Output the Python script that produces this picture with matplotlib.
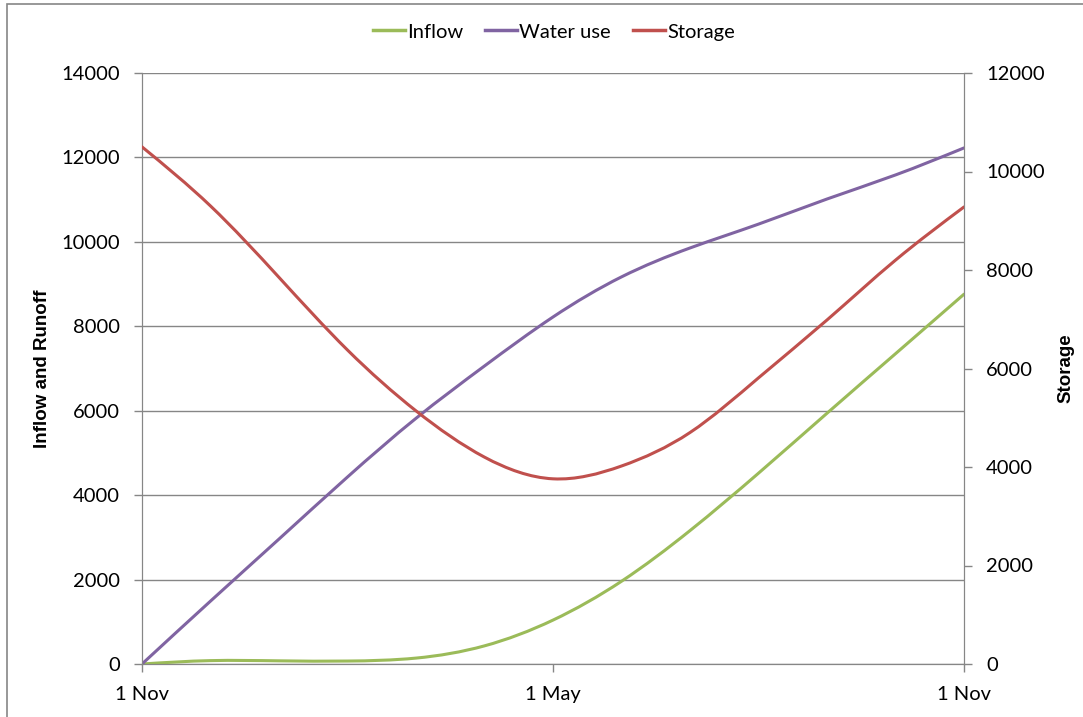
import numpy as np
import matplotlib.pyplot as plt
from matplotlib.path import Path
from matplotlib.patches import PathPatch, Rectangle
from matplotlib.lines import Line2D

plt.rcParams['font.family'] = ['Lato', 'DejaVu Sans']

# Месяцы от 1 Nov (0) до следующего 1 Nov (12)
months = np.arange(13)
tick_pos = [0, 6, 12]
tick_labels = ['1 Nov', '1 May', '1 Nov']

inflow = [0, 80, 75, 70, 140, 430, 1040, 1960, 3160, 4520, 5940, 7350, 8760]
water_use = [0, 1490, 2960, 4430, 5820, 7060, 8220, 9170, 9855, 10420, 11015, 11585, 12225]
storage = [10500, 9300, 7850, 6375, 5140, 4200, 3760, 4020, 4700, 5810, 6985, 8200, 9280]

c_inflow = '#9BBB59'
c_water = '#8064A2'
c_storage = '#C0504D'
grid_c = '#868686'


# Гладкая линия через точки (кубический сплайн, нарисованный кривыми Безье)
def smooth_path(x, y):
    x = np.asarray(x, float)
    y = np.asarray(y, float)
    n = len(x)
    A = np.zeros((n, n))
    b = np.zeros(n)
    A[0, 0], A[0, 1], b[0] = 2, 1, 3 * (y[1] - y[0])
    A[-1, -2], A[-1, -1], b[-1] = 1, 2, 3 * (y[-1] - y[-2])
    for i in range(1, n - 1):
        A[i, i - 1], A[i, i], A[i, i + 1] = 1, 4, 1
        b[i] = 3 * (y[i + 1] - y[i - 1])
    d = np.linalg.solve(A, b)
    verts = [(x[0], y[0])]
    codes = [Path.MOVETO]
    for i in range(n - 1):
        h = x[i + 1] - x[i]
        verts += [(x[i] + h / 3, y[i] + d[i] / 3),
                  (x[i + 1] - h / 3, y[i + 1] - d[i + 1] / 3),
                  (x[i + 1], y[i + 1])]
        codes += [Path.CURVE4] * 3
    return Path(verts, codes)


fig = plt.figure(figsize=(10.83, 7.17), dpi=100)
ax = fig.add_axes([142 / 1083, 1 - 664 / 717, 822 / 1083, 591 / 717])
ax2 = ax.twinx()

ax.set_xlim(0, 12)
ax.set_ylim(0, 14000)
ax2.set_ylim(0, 12000)

for a, data, col in [(ax, inflow, c_inflow), (ax, water_use, c_water), (ax2, storage, c_storage)]:
    a.add_patch(PathPatch(smooth_path(months, data), facecolor='none',
                          edgecolor=col, lw=2.2, capstyle='round', zorder=3))

ax.set_yticks(np.arange(0, 14001, 2000))
ax2.set_yticks(np.arange(0, 12001, 2000))
ax.set_xticks(tick_pos)
ax.set_xticklabels(tick_labels)
ax.yaxis.grid(True, color=grid_c, lw=1)
ax.set_axisbelow(True)

for a in (ax, ax2):
    for s in a.spines.values():
        s.set_color(grid_c)
    a.spines['top'].set_visible(False)
    a.tick_params(colors=grid_c, labelcolor='black', labelsize=14.5, length=6, width=1)
ax.tick_params(axis='y', pad=10)
ax.tick_params(axis='x', pad=10)
ax2.tick_params(axis='y', pad=10)

label_font = dict(family=['Liberation Sans', 'DejaVu Sans'], fontsize=13.5, fontweight='bold')
ax.set_ylabel('Inflow and Runoff', labelpad=7, **label_font)
ax2.set_ylabel('Storage', labelpad=9, **label_font)

handles = [Line2D([], [], color=c_inflow, lw=2.5),
           Line2D([], [], color=c_water, lw=2.5),
           Line2D([], [], color=c_storage, lw=2.5)]
fig.legend(handles, ['Inflow', 'Water use', 'Storage'], loc='center',
           bbox_to_anchor=(554 / 1083, 1 - 32 / 717), ncol=3, frameon=False,
           fontsize=14.5, handlelength=1.6, handletextpad=0.1, columnspacing=1.1)

# Рамка диаграммы
fig.patches.append(Rectangle((7 / 1083, -0.1), 1.2, 1 - 4 / 717 + 0.1,
                             transform=fig.transFigure, fill=False,
                             edgecolor=grid_c, lw=1.2))

fig.savefig('out.png', dpi=100)
